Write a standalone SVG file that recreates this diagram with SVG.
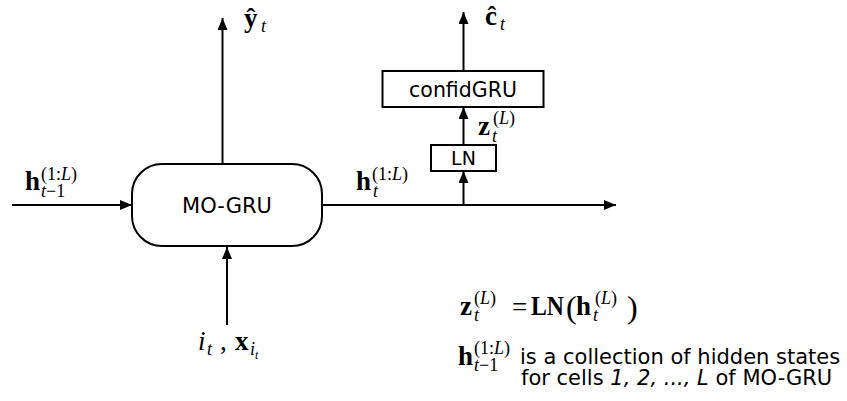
<svg xmlns="http://www.w3.org/2000/svg" width="847" height="401" viewBox="0 0 847 401">
<defs>
<style>
.ln{stroke:#000;stroke-width:2;fill:none}
.box{stroke:#000;stroke-width:2;fill:#fff}
.lab{font-family:"DejaVu Sans",Verdana,sans-serif;fill:#000}
.mb{font-family:"Liberation Serif","Times New Roman",serif;font-weight:bold;font-style:normal;font-size:27px;fill:#000}
.mi{font-family:"Liberation Serif","Times New Roman",serif;font-style:italic;font-weight:normal;fill:#000}
.mr{font-family:"Liberation Serif","Times New Roman",serif;font-style:normal;font-weight:normal;fill:#000}
.sc{font-size:18px}
</style>
<marker id="ah" viewBox="0 0 12 10" refX="12" refY="5" markerWidth="12" markerHeight="10" markerUnits="userSpaceOnUse" orient="auto">
<path d="M0,0 L12,5 L0,10 Z" fill="#000"/>
</marker>
</defs>
<rect width="847" height="401" fill="#fff"/>
<g id="connectors">
<line class="ln" x1="12" y1="205" x2="132" y2="205" marker-end="url(#ah)"/>
<line class="ln" x1="222.5" y1="164" x2="222.5" y2="18" marker-end="url(#ah)"/>
<line class="ln" x1="227" y1="325" x2="227" y2="247" marker-end="url(#ah)"/>
<line class="ln" x1="322" y1="205" x2="616" y2="205" marker-end="url(#ah)"/>
<line class="ln" x1="463.5" y1="205" x2="463.5" y2="171" marker-end="url(#ah)"/>
<line class="ln" x1="463.5" y1="145" x2="463.5" y2="107" marker-end="url(#ah)"/>
<line class="ln" x1="463.5" y1="71" x2="463.5" y2="12" marker-end="url(#ah)"/>
</g>
<g id="mogru">
<rect class="box" x="132" y="164" width="190" height="82" rx="30" ry="30"/>
<text class="lab" x="227" y="213" font-size="21" text-anchor="middle">MO-GRU</text>
</g>
<g id="ln">
<rect class="box" x="431" y="145" width="65" height="26"/>
<text class="lab" x="463.5" y="165" font-size="19" text-anchor="middle">LN</text>
</g>
<g id="confidgru">
<rect class="box" x="382.5" y="71" width="161" height="36"/>
<text class="lab" x="463" y="97" font-size="20.5" text-anchor="middle">confidGRU</text>
</g>
<g id="label-yhat">
<text class="mb" x="244" y="27" font-size="29">ŷ</text>
<text class="mi sc" x="261" y="32">t</text>
</g>
<g id="label-chat">
<text class="mb" x="485" y="25" font-size="29">ĉ</text>
<text class="mi sc" x="500" y="30">t</text>
</g>
<g id="label-hprev">
<text class="mb" x="25" y="190">h</text>
<text class="mr sc" x="41" y="180">(1:<tspan class="mi">L</tspan>)</text>
<text class="mi sc" x="41" y="197">t<tspan class="mr">−1</tspan></text>
</g>
<g id="label-h">
<text class="mb" x="356" y="190">h</text>
<text class="mr sc" x="372" y="180">(1:<tspan class="mi">L</tspan>)</text>
<text class="mi sc" x="373" y="197">t</text>
</g>
<g id="label-z">
<text class="mb" x="478" y="135">z</text>
<text class="mr sc" x="493" y="124">(<tspan class="mi">L</tspan>)</text>
<text class="mi sc" x="492" y="142">t</text>
</g>
<g id="label-input">
<text class="mi" x="198" y="350" font-size="27">i</text>
<text class="mi sc" x="207" y="355">t</text>
<text class="mr" x="220" y="350" font-size="27">,</text>
<text class="mb" x="235" y="350">x</text>
<text class="mi sc" x="250" y="355">i</text>
<text class="mi" x="255" y="359" font-size="12">t</text>
</g>
<g id="equation">
<text class="mb" x="460" y="315">z</text>
<text class="mr sc" x="474" y="304">(<tspan class="mi">L</tspan>)</text>
<text class="mi sc" x="474" y="321">t</text>
<text class="mr" x="512" y="316" font-size="27">=</text>
<text class="mb" x="531" y="315" font-size="25" textLength="33" lengthAdjust="spacingAndGlyphs">LN</text>
<text class="mr" x="566" y="318" font-size="32">(</text>
<text class="mb" x="576" y="315">h</text>
<text class="mr sc" x="595" y="304">(<tspan class="mi">L</tspan>)</text>
<text class="mi sc" x="593" y="321">t</text>
<text class="mr" x="627" y="318" font-size="32">)</text>
</g>
<g id="note">
<text class="mb" x="458" y="365">h</text>
<text class="mr sc" x="474" y="354">(1:<tspan class="mi">L</tspan>)</text>
<text class="mi sc" x="474" y="371">t<tspan class="mr">−1</tspan></text>
<text class="lab" x="520" y="364" font-size="21">is a collection of hidden states</text>
<text class="lab" x="521" y="385" font-size="21">for cells <tspan font-style="italic">1, 2, ..., L</tspan> of MO-GRU</text>
</g>
</svg>
